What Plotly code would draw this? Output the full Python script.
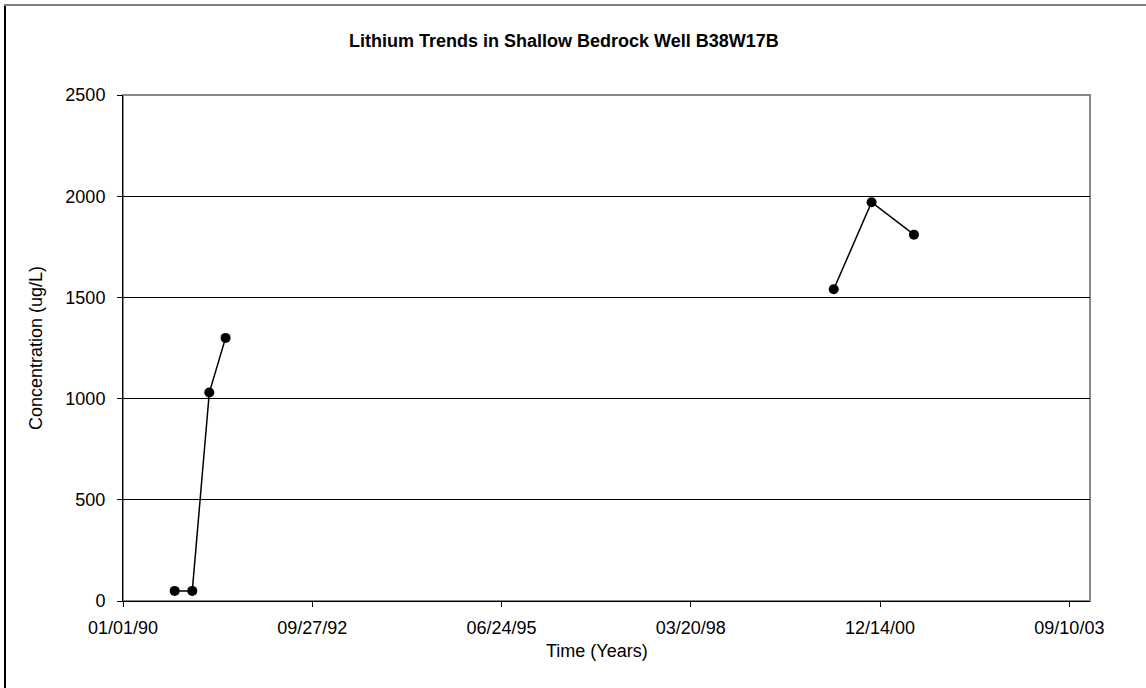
import pandas as pd
import plotly.graph_objects as go

# Data
sample_dates = ["1990-10-01", "1991-01-02", "1991-04-02", "1991-06-27",
                "2000-04-13", "2000-10-30", "2001-06-11"]
lithium = [50, 50, 1030, 1300, 1540, 1970, 1810]
segment = [0, 0, 0, 0, 1, 1, 1]
tick_start = "1990-01-01"
tick_step_days = 1000
n_ticks = 6
y_ticks = [0, 500, 1000, 1500, 2000, 2500]

W, H = 1146, 688
L, R, T, B = 123, 1090, 95, 601
ml, mr, mt, mb = L, W - R, T, H - B
pw, ph = R - L, B - T

def px(x):
    return (x - L) / pw

def py(y):
    return (B - y) / ph

start = pd.Timestamp(tick_start)
tickvals = [start + pd.Timedelta(days=tick_step_days * i) for i in range(n_ticks)]
ticktext = [t.strftime("%m/%d/%y") for t in tickvals]
x_end = start + pd.Timedelta(days=5109)

fig = go.Figure()
for s in sorted(set(segment)):
    xs = [pd.Timestamp(d) for d, g in zip(sample_dates, segment) if g == s]
    ys = [v for v, g in zip(lithium, segment) if g == s]
    fig.add_trace(go.Scatter(
        x=xs, y=ys, mode="lines+markers",
        line=dict(color="black", width=1.5),
        marker=dict(color="black", size=10),
        showlegend=False, hoverinfo="x+y"))

font = "Liberation Sans, Arial, sans-serif"
fig.update_layout(
    width=W, height=H,
    margin=dict(l=ml, r=mr, t=mt, b=mb, pad=0),
    paper_bgcolor="white", plot_bgcolor="white",
    font=dict(family=font, color="black", size=18),
    showlegend=False,
    xaxis=dict(range=[start, x_end], tickvals=tickvals, ticktext=ticktext,
               showgrid=False, zeroline=False,
               showline=True, linecolor="black", linewidth=1,
               ticks="outside", ticklen=5, tickcolor="black", tickwidth=1,
               ticklabelstandoff=5,
               tickfont=dict(size=18), fixedrange=True),
    yaxis=dict(range=[0, 2500], tickvals=y_ticks,
               showgrid=True, gridcolor="black", gridwidth=1, zeroline=False,
               showline=True, linecolor="black", linewidth=1,
               ticks="outside", ticklen=5, tickcolor="black", tickwidth=1,
               ticklabelstandoff=8,
               tickfont=dict(size=18), fixedrange=True),
    shapes=[
        dict(type="rect", xref="paper", yref="paper", x0=0, x1=1, y0=0, y1=1,
             line=dict(color="#888888", width=2), layer="below"),
        dict(type="line", xref="paper", yref="paper", x0=px(5), x1=px(5),
             y0=py(4), y1=py(H + 5), line=dict(color="black", width=2)),
        dict(type="line", xref="paper", yref="paper", x0=px(4), x1=px(W + 5),
             y0=py(5), y1=py(5), line=dict(color="#808080", width=2)),
    ],
    annotations=[
        dict(text="<b>Lithium Trends in Shallow Bedrock Well B38W17B</b>",
             xref="paper", yref="paper", x=px(564), y=py(41),
             xanchor="center", yanchor="middle", showarrow=False,
             font=dict(size=18, family=font)),
        dict(text="Time (Years)", xref="paper", yref="paper",
             x=px(597), y=py(651), xanchor="center", yanchor="middle",
             showarrow=False, font=dict(size=18, family=font)),
        dict(text="Concentration (ug/L)", xref="paper", yref="paper",
             x=px(36), y=py(348), xanchor="center", yanchor="middle",
             textangle=-90, showarrow=False, font=dict(size=18, family=font)),
    ],
)

fig.write_html("out.html",
               config={"displayModeBar": False},
               post_script="document.body.style.margin='0';"
                           "document.body.style.overflow='hidden';")
